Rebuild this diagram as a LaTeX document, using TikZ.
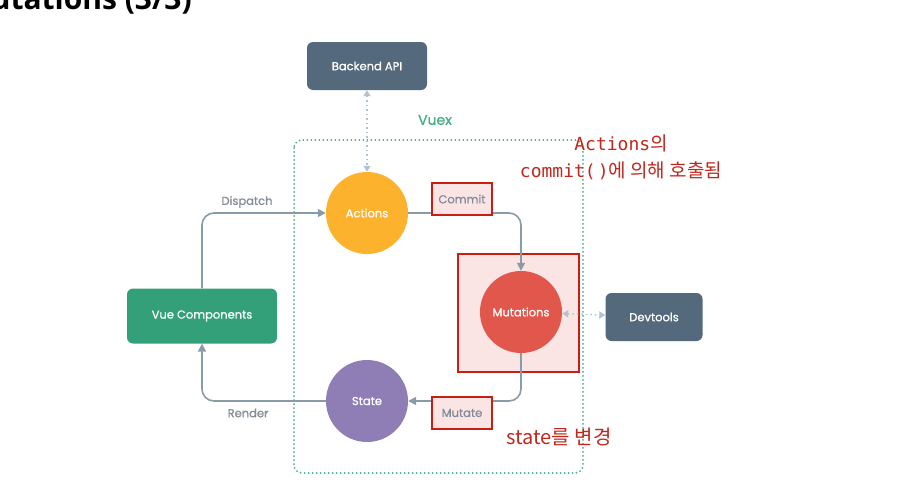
\documentclass[tikz,border=0pt]{standalone}
\usepackage{fontspec}
\setmainfont{Poppins}
\newfontfamily\labelfont{Poppins}[FakeBold=0.8]
\newfontfamily\cjk{Noto Sans CJK KR}
\newfontfamily\monolatin{DejaVu Sans Mono}
\newfontfamily\titlefont{Open Sans}
\usepackage{tikz}
\usetikzlibrary{arrows.meta, positioning}
\definecolor{colorSlate}{RGB}{84,106,124}
\definecolor{colorVue}{RGB}{52,160,122}
\definecolor{colorActions}{RGB}{253,178,46}
\definecolor{colorMutations}{RGB}{226,87,76}
\definecolor{colorState}{RGB}{143,126,182}
\definecolor{colorFlow}{RGB}{138,155,168}
\definecolor{colorSync}{RGB}{175,195,208}
\definecolor{colorLabel}{RGB}{128,140,150}
\definecolor{colorVuex}{RGB}{70,175,130}
\definecolor{colorNote}{RGB}{192,40,30}
\definecolor{colorHilite}{RGB}{200,30,20}
\definecolor{colorHiliteFill}{RGB}{250,228,228}

\begin{document}
\begin{tikzpicture}[x=1pt, y=-1pt, font=\labelfont\fontsize{11.5}{14}\selectfont,
  box/.style={rounded corners=6pt, minimum width=120pt, minimum height=48pt, text=white, inner sep=0pt},
  store/.style={circle, minimum size=82pt, text=white, inner sep=0pt},
  hilite/.style={draw=colorHilite, line width=2pt, fill=colorHiliteFill, inner sep=0pt},
  flow/.style={colorFlow, line width=1.6pt, rounded corners=12pt, -{Triangle[length=8pt,width=8pt]}},
  sync/.style={colorSync, line width=1.4pt, dash pattern=on 1.5pt off 3pt, {Triangle[length=6pt,width=7pt]}-{Triangle[length=6pt,width=7pt]}},
  flowlabel/.style={text=colorLabel},
  note/.style={text=colorNote}]
\clip (0,0) rectangle (909,482);
\fill[white] (0,0) rectangle (909,482);

% title, cut off by the top edge
\node[anchor=base east, inner sep=0pt, font=\titlefont\bfseries\fontsize{30}{34}\selectfont] (title) at (192,9) {Mutations (3/3)};

% the Vuex store
\draw[colorVuex, line width=2pt, line cap=round, dash pattern=on 0pt off 4pt, rounded corners=8pt] (294,140) rectangle (583,473);
\node[text=colorVuex, font=\labelfont\fontsize{14}{16}\selectfont] (vuex) at (435,120) {Vuex};

\node[box, fill=colorSlate] (backend) at (367,66) {Backend API};
\node[store, fill=colorActions] (actions) at (367,213) {Actions};
\node[store, fill=colorState] (state) at (367,401) {State};
\node[box, fill=colorVue, minimum width=150pt, minimum height=55pt] (vue) at (202,316) {Vue Components};
\node[hilite, minimum width=121pt, minimum height=118pt] (mutbox) at (518,313) {};
\node[store, fill=colorMutations] (mutations) at (521,312) {Mutations};
\node[box, fill=colorSlate, minimum width=97pt] (devtools) at (654,317) {Devtools};

% connectors
\draw[sync] (backend) -- (actions);
\draw[sync] (mutations) -- (devtools);
\draw[flow] (vue.north) |- (actions.west);
\draw[flow] (actions.east) -| (mutations.north);
\draw[flow] (mutations.south) |- (state.east);
\draw[flow] (state.west) -| (vue.south);

\node[flowlabel] (dispatch) at (247,202) {Dispatch};
\node[flowlabel] (render) at (248,413) {Render};
\node[hilite, minimum width=60pt, minimum height=32pt, text=colorLabel] (commit) at (462,199) {Commit};
\node[hilite, minimum width=60pt, minimum height=32pt, text=colorLabel] (mutate) at (462,413) {Mutate};

% notes
\node[note, align=center, font=\fontsize{19}{27}\selectfont] (notecommit) at (621,157) {{\monolatin\fontsize{18}{27}\selectfont Actions}{\cjk 의}\\{\monolatin\fontsize{18}{27}\selectfont commit(\kern2pt)}{\cjk 에 의해 호출됨}};
\node[note, font=\cjk\fontsize{20}{22}\selectfont] (notestate) at (559,437) {state를 변경};
\end{tikzpicture}
\end{document}
